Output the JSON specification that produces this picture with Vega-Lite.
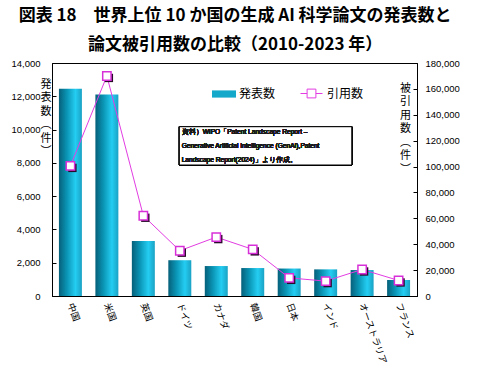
{
  "$schema": "https://vega.github.io/schema/vega-lite/v6.json",
  "width": 365,
  "height": 233,
  "autosize": {"type": "none"},
  "padding": {"left": 52, "right": 74, "top": 63, "bottom": 72},
  "title": {
    "text": ["図表 18　世界上位 10 か国の生成 AI 科学論文の発表数と", "論文被引用数の比較（2010-2023 年）"],
    "font": "Noto Sans CJK JP",
    "fontSize": 17,
    "fontWeight": "bold",
    "lineHeight": 29,
    "anchor": "middle",
    "frame": "bounds",
    "color": "black",
    "offset": 4
  },
  "data": {
    "values": [
      {"country": "中国", "papers": 12450, "citations": 100500},
      {"country": "米国", "papers": 12100, "citations": 170000},
      {"country": "英国", "papers": 3300, "citations": 62000},
      {"country": "ドイツ", "papers": 2150, "citations": 35000},
      {"country": "カナダ", "papers": 1800, "citations": 45500},
      {"country": "韓国", "papers": 1680, "citations": 36000},
      {"country": "日本", "papers": 1650, "citations": 14000},
      {"country": "インド", "papers": 1600, "citations": 11500},
      {"country": "オーストラリア", "papers": 1560, "citations": 20500},
      {"country": "フランス", "papers": 960, "citations": 12000}
    ]
  },
  "layer": [
    {
      "layer": [
        {
          "mark": {"type": "bar", "color": {"gradient": "linear", "x1": 0, "y1": 0, "x2": 1, "y2": 0, "stops": [{"offset": 0, "color": "#06607a"}, {"offset": 0.35, "color": "#0a95b5"}, {"offset": 0.72, "color": "#24cdf2"}, {"offset": 1, "color": "#1aa2c4"}]}},
          "encoding": {
            "x": {
              "field": "country", "type": "nominal", "sort": null,
              "scale": {"paddingInner": 0.37, "paddingOuter": 0.19},
              "axis": {
                "title": null, "labelAngle": 70, "ticks": false, "labelPadding": 7,
                "labelFont": "Noto Sans CJK JP", "labelFontSize": 9.2, "labelColor": "black",
                "domainColor": "black"
              }
            },
            "y": {
              "field": "papers", "type": "quantitative",
              "scale": {"domain": [0, 14000]},
              "axis": {
                "values": [0, 2000, 4000, 6000, 8000, 10000, 12000, 14000],
                "format": ",d", "grid": false, "tickSize": -4, "labelPadding": 16, "labelOverlap": false,
                "labelFont": "Liberation Sans", "labelFontSize": 9.5, "labelColor": "black",
                "domainColor": "black", "tickColor": "black",
                "title": ["発", "表", "数", "︵", "件", "︶"],
                "titleAngle": 0, "titleX": -6.5, "titleY": 15, "titleAlign": "center", "titleBaseline": "top",
                "titleFont": "Noto Sans CJK JP", "titleFontSize": 11, "titleFontWeight": "normal",
                "titleLineHeight": 13.5, "titleColor": "black"
              }
            }
          }
        },
        {
          "transform": [{"filter": "false"}],
          "mark": {"type": "bar"},
          "encoding": {
            "x": {"field": "country", "type": "nominal", "sort": null},
            "y": {"field": "papers", "type": "quantitative"},
            "fill": {
              "datum": "発表数", "type": "nominal",
              "scale": {"domain": ["発表数"], "range": ["#14a8ca"]},
              "legend": {
                "title": null, "orient": "none", "legendX": 160, "legendY": 19,
                "symbolType": "M-1,-0.3H1V0.3H-1Z", "symbolSize": 576, "symbolStrokeWidth": 0,
                "labelFont": "Noto Sans CJK JP", "labelFontSize": 12, "labelColor": "black", "labelOffset": 3,
                "encode": {"symbols": {"update": {"fill": {"value": {"gradient": "linear", "x1": 0, "y1": 0, "x2": 1, "y2": 0, "stops": [{"offset": 0, "color": "#06607a"}, {"offset": 0.35, "color": "#0a95b5"}, {"offset": 0.72, "color": "#24cdf2"}, {"offset": 1, "color": "#1aa2c4"}]}}}}}
              }
            }
          }
        },
        {
          "mark": {"type": "rect", "fill": "white", "stroke": "black", "strokeWidth": 1},
          "encoding": {
            "x": {"datum": "ドイツ", "type": "nominal", "bandPosition": 0.48},
            "x2": {"datum": "オーストラリア", "bandPosition": 0.05},
            "y": {"datum": 10172, "type": "quantitative"},
            "y2": {"datum": 7871}
          }
        },
        {
          "mark": {"type": "text", "align": "left", "baseline": "middle", "lineHeight": 14, "font": "Liberation Sans", "fontSize": 6.6, "color": "#1a1a1a"},
          "encoding": {
            "x": {"datum": "ドイツ", "type": "nominal", "bandPosition": 0.58},
            "y": {"datum": 9872, "type": "quantitative"},
            "text": {"value": ["資料）WIPO「Patent Landscape Report –", "Generative Artificial Intelligence (GenAI),Patent", "Landscape Report(2024)」より作成。"]}
          }
        }
      ]
    },
    {
      "layer": [
        {
          "mark": {"type": "line", "strokeWidth": 1},
          "encoding": {
            "x": {"field": "country", "type": "nominal", "sort": null},
            "y": {
              "field": "citations", "type": "quantitative",
              "scale": {"domain": [0, 180000]},
              "axis": {
                "orient": "right",
                "values": [0, 20000, 40000, 60000, 80000, 100000, 120000, 140000, 160000, 180000],
                "format": ",d", "grid": false, "tickSize": -4, "labelPadding": 12, "labelOverlap": false,
                "labelFont": "Liberation Sans", "labelFontSize": 9.5, "labelColor": "black",
                "domainColor": "black", "tickColor": "black",
                "title": ["被", "引", "用", "数", "︵", "件", "︶"],
                "titleAngle": 0, "titleX": -12, "titleY": 19, "titleAlign": "center", "titleBaseline": "top",
                "titleFont": "Noto Sans CJK JP", "titleFontSize": 11, "titleFontWeight": "normal",
                "titleLineHeight": 13.5, "titleColor": "black"
              }
            },
            "stroke": {
              "datum": "引用数", "type": "nominal",
              "scale": {"domain": ["引用数"], "range": ["#e23ce2"]},
              "legend": {
                "title": null, "orient": "none", "legendX": 248, "legendY": 19,
                "symbolType": "M-1,0H-0.4M0.4,0H1M-0.4,-0.4H0.4V0.4H-0.4Z", "symbolSize": 484, "symbolStrokeWidth": 1,
                "symbolFillColor": "white",
                "labelFont": "Noto Sans CJK JP", "labelFontSize": 12, "labelColor": "black", "labelOffset": 4,
                "encode": {"symbols": {"update": {"fill": {"value": "white"}}}}
              }
            }
          }
        },
        {
          "mark": {"type": "point", "shape": "square", "size": 70, "filled": true, "color": "#2a0a2a", "opacity": 1, "xOffset": 2, "yOffset": 2},
          "encoding": {
            "x": {"field": "country", "type": "nominal", "sort": null},
            "y": {"field": "citations", "type": "quantitative"}
          }
        },
        {
          "mark": {"type": "point", "shape": "square", "size": 70, "fill": "white", "stroke": "#d830d8", "strokeWidth": 1.5, "opacity": 1},
          "encoding": {
            "x": {"field": "country", "type": "nominal", "sort": null},
            "y": {"field": "citations", "type": "quantitative"}
          }
        }
      ]
    }
  ],
  "resolve": {"scale": {"y": "independent"}},
  "config": {
    "view": {"stroke": "black", "strokeWidth": 1},
    "font": "Noto Sans CJK JP",
    "axis": {"labelOverlap": false},
    "axisY": {"labelOverlap": false},
    "axisQuantitative": {"labelOverlap": false, "tickCount": 10}
  }
}
